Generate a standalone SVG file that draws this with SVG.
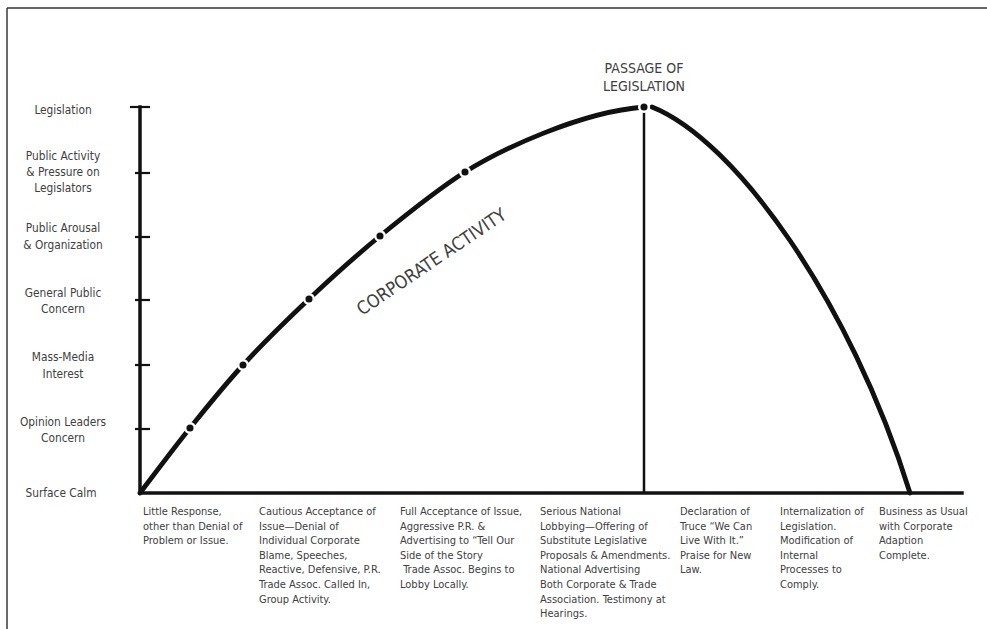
<svg xmlns="http://www.w3.org/2000/svg" width="987" height="629" viewBox="0 0 987 629">
<style>
  .lbl { font-family: "DejaVu Sans Condensed", "Liberation Sans", sans-serif; font-size: 11.8px; fill: #404040; }
  .ylbl { text-anchor: middle; }
  .xlbl { font-size: 11px; }
  .head { font-family: "DejaVu Sans Condensed", "Liberation Sans", sans-serif; font-size: 14px; fill: #404040; text-anchor: middle; }
  .axis { stroke: #111; stroke-width: 3.5; fill: none; stroke-linecap: square; }
  .tick { stroke: #111; stroke-width: 2.2; }
  .curve { stroke: #111; stroke-width: 4.8; fill: none; stroke-linecap: round; }
  .dot { fill: #111; stroke: #fff; stroke-width: 2.5; }
</style>
<rect width="987" height="629" fill="#fff"/>
<g id="frame">
  <line x1="7" y1="8" x2="987" y2="8" stroke="#333" stroke-width="1.6"/>
  <line x1="7" y1="8" x2="7" y2="629" stroke="#444" stroke-width="1.6"/>
</g>
<g id="axes">
  <line class="axis" x1="140" y1="107" x2="140" y2="493"/>
  <line class="axis" x1="140" y1="493" x2="962" y2="493"/>
  <line class="tick" x1="130" y1="107" x2="150" y2="107"/>
  <line class="tick" x1="135" y1="173" x2="150" y2="173"/>
  <line class="tick" x1="135" y1="237" x2="150" y2="237"/>
  <line class="tick" x1="135" y1="300" x2="150" y2="300"/>
  <line class="tick" x1="135" y1="365" x2="150" y2="365"/>
  <line class="tick" x1="135" y1="429" x2="150" y2="429"/>
</g>
<g id="y-labels" class="lbl ylbl">
  <text x="63" y="114">Legislation</text>
  <text x="63" y="160">Public Activity</text>
  <text x="63" y="176">&amp; Pressure on</text>
  <text x="63" y="192">Legislators</text>
  <text x="63" y="232">Public Arousal</text>
  <text x="63" y="249">&amp; Organization</text>
  <text x="63" y="297">General Public</text>
  <text x="63" y="313">Concern</text>
  <text x="63" y="361">Mass-Media</text>
  <text x="63" y="378">Interest</text>
  <text x="63" y="426">Opinion Leaders</text>
  <text x="63" y="442">Concern</text>
  <text x="61" y="497">Surface Calm</text>
</g>
<g id="connectors">
  <path id="rise" class="curve" d="M140,493 C148.3,482.2 172.8,449.3 190,428 C207.2,406.7 223.2,386.5 243,365 C262.8,343.5 286.2,320.5 309,299 C331.8,277.5 354,257.2 380,236 C406,214.8 436.7,189.8 465,172 C500,150 580,112 644,107"/>
  <path id="fall" class="curve" d="M652,107 C735,140 850,300 910,493"/>
  <line id="passage-line" x1="644" y1="107" x2="644" y2="493" stroke="#111" stroke-width="2.5"/>
</g>
<g id="dots">
  <circle class="dot" cx="190" cy="428" r="4.8"/>
  <circle class="dot" cx="243" cy="365" r="4.8"/>
  <circle class="dot" cx="309" cy="299" r="4.8"/>
  <circle class="dot" cx="380" cy="236" r="4.8"/>
  <circle class="dot" cx="465" cy="172" r="4.8"/>
  <circle class="dot" cx="644" cy="107" r="4.8"/>
</g>
<g id="passage-label" class="head">
  <text x="644" y="73">PASSAGE OF</text>
  <text x="644" y="91">LEGISLATION</text>
</g>
<g id="corporate-activity">
  <text class="head" style="text-anchor:start;font-size:18px" transform="translate(362,316) rotate(-34)">CORPORATE ACTIVITY</text>
</g>
<g id="x-labels" class="lbl xlbl">
  <text x="143" y="515">Little Response,</text>
  <text x="143" y="530">other than Denial of</text>
  <text x="143" y="544">Problem or Issue.</text>

  <text x="259" y="515">Cautious Acceptance of</text>
  <text x="259" y="530">Issue—Denial of</text>
  <text x="259" y="544">Individual Corporate</text>
  <text x="259" y="559">Blame, Speeches,</text>
  <text x="259" y="573">Reactive, Defensive, P.R.</text>
  <text x="259" y="588">Trade Assoc. Called In,</text>
  <text x="259" y="603">Group Activity.</text>

  <text x="400" y="515">Full Acceptance of Issue,</text>
  <text x="400" y="530">Aggressive P.R. &amp;</text>
  <text x="400" y="544">Advertising to “Tell Our</text>
  <text x="400" y="559">Side of the Story</text>
  <text x="400" y="573" xml:space="preserve"> Trade Assoc. Begins to</text>
  <text x="400" y="588">Lobby Locally.</text>

  <text x="540" y="515">Serious National</text>
  <text x="540" y="530">Lobbying—Offering of</text>
  <text x="540" y="544">Substitute Legislative</text>
  <text x="540" y="559">Proposals &amp; Amendments.</text>
  <text x="540" y="573">National Advertising</text>
  <text x="540" y="588">Both Corporate &amp; Trade</text>
  <text x="540" y="603">Association. Testimony at</text>
  <text x="540" y="617">Hearings.</text>

  <text x="680" y="515">Declaration of</text>
  <text x="680" y="530">Truce “We Can</text>
  <text x="680" y="544">Live With It.”</text>
  <text x="680" y="559">Praise for New</text>
  <text x="680" y="573">Law.</text>

  <text x="780" y="515">Internalization of</text>
  <text x="780" y="530">Legislation.</text>
  <text x="780" y="544">Modification of</text>
  <text x="780" y="559">Internal</text>
  <text x="780" y="573">Processes to</text>
  <text x="780" y="588">Comply.</text>

  <text x="879" y="515">Business as Usual</text>
  <text x="879" y="530">with Corporate</text>
  <text x="879" y="544">Adaption</text>
  <text x="879" y="559">Complete.</text>
</g>
</svg>
